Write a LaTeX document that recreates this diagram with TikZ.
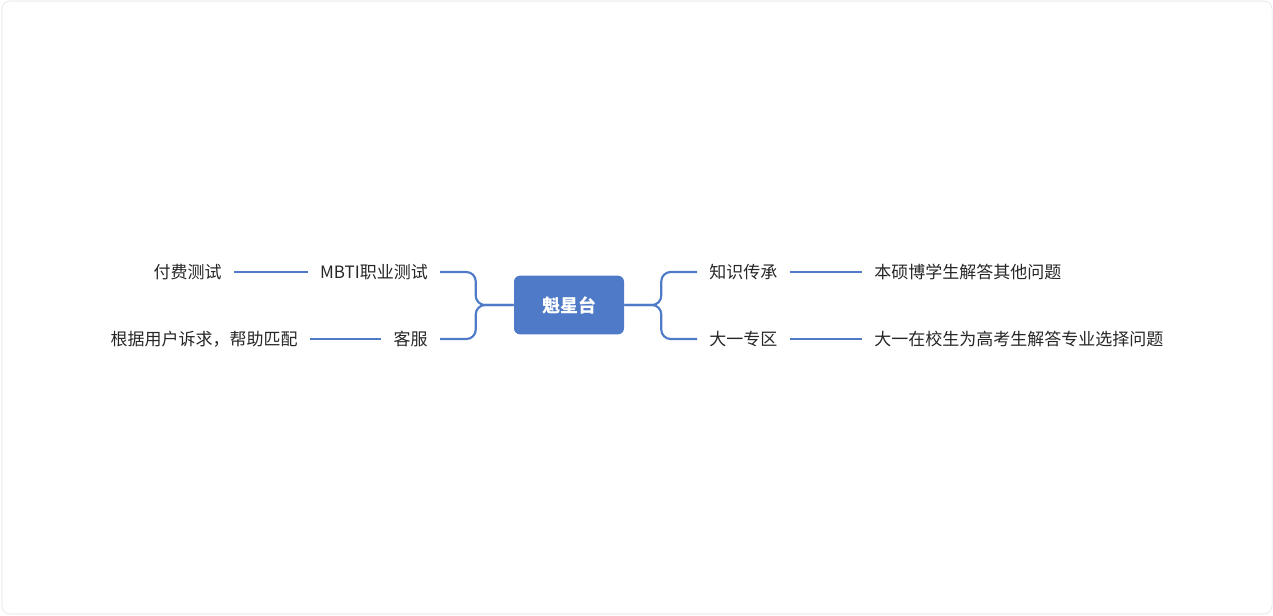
\documentclass[tikz,border=0pt]{standalone}
\usepackage{fontspec}
\setmainfont{Noto Sans CJK SC}
\usetikzlibrary{positioning}
\definecolor{mapblue}{HTML}{4E7AC7}
\tikzstyle{root}=[
	rectangle,
	rounded corners=4.5pt,
	fill=mapblue,
	text=white,
	font=\fontsize{13.5pt}{16pt}\selectfont\bfseries,
	minimum width=82.5pt,
	minimum height=44pt
]
\tikzstyle{topic}=[
	inner xsep=9pt,
	inner ysep=3pt,
	text=black!85,
	font=\fontsize{12.75pt}{15pt}\selectfont
]
\tikzstyle{branch}=[
	draw=mapblue,
	line width=1.6pt,
	rounded corners=7pt
]
\begin{document}
\begin{tikzpicture}[x=0.75pt,y=-0.75pt]
\useasboundingbox (0,0) rectangle (1273,615);
\draw[black!12, rounded corners=6pt] (2,1) rectangle (1272,614);
\node [root] (Kuixingtai) at (569,305) {魁星台};
% right side
\node [topic, anchor=west] (Zhishi) at (697,272) {知识传承};
\node [topic, anchor=west] (Dayi) at (697,339) {大一专区};
\node [topic, anchor=west] (Benshuo) at (862,272) {本硕博学生解答其他问题};
\node [topic, anchor=west] (Zaixiao) at (862,339) {大一在校生为高考生解答专业选择问题};
% left side
\node [topic, anchor=east] (Mbti) at (440,272) {MBTI职业测试};
\node [topic, anchor=east] (Kefu) at (440,339) {客服};
\node [topic, anchor=east] (Fufei) at (234,272) {付费测试};
\node [topic, anchor=east] (Pipei) at (310,339) {根据用户诉求，帮助匹配};
\draw [branch] (Kuixingtai.east) -- ++(37,0) |- (Zhishi.west);
\draw [branch] (Kuixingtai.east) -- ++(37,0) |- (Dayi.west);
\draw [branch] (Kuixingtai.west) -- ++(-38,0) |- (Mbti.east);
\draw [branch] (Kuixingtai.west) -- ++(-38,0) |- (Kefu.east);
\draw [branch] (Zhishi) -- (Benshuo);
\draw [branch] (Dayi) -- (Zaixiao);
\draw [branch] (Mbti) -- (Fufei);
\draw [branch] (Kefu) -- (Pipei);
\end{tikzpicture}
\end{document}
